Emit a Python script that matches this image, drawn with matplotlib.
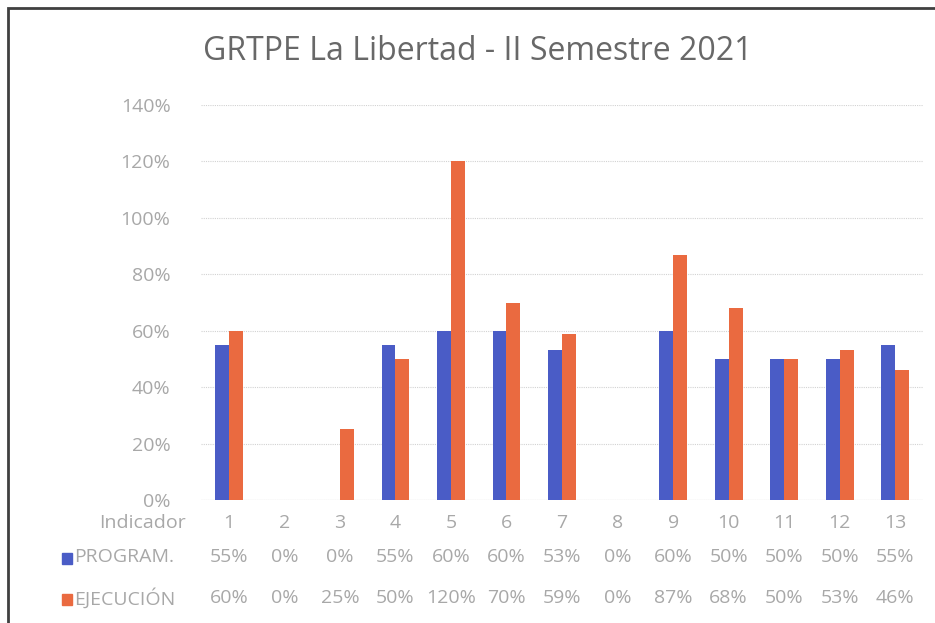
import matplotlib.pyplot as plt
from matplotlib.patches import Rectangle
import matplotlib.transforms as mtransforms

# -----------------------------
# DATA
# -----------------------------
indicadores = ["1", "2", "3", "4", "5", "6", "7", "8", "9", "10", "11", "12", "13"]
program = [55, 0, 0, 55, 60, 60, 53, 0, 60, 50, 50, 50, 55]
ejecucion = [60, 0, 25, 50, 120, 70, 59, 0, 87, 68, 50, 53, 46]

BLUE = '#4a5cc6'
ORANGE = '#ea6a40'
TXT = '#a8a8a8'
FS = 14

plt.rcParams['font.family'] = ['Open Sans', 'DejaVu Sans']

fig = plt.figure(figsize=(9.35, 6.23), dpi=100)
ax = fig.add_axes([201 / 935, 1 - 500 / 623, 722 / 935, 395 / 623])

x = list(range(len(indicadores)))
w = 0.25
ax.bar([i - w / 2 for i in x], program, width=w, color=BLUE, zorder=3)
ax.bar([i + w / 2 for i in x], ejecucion, width=w, color=ORANGE, zorder=3)

ax.set_xlim(-0.5, len(indicadores) - 0.5)
ax.set_ylim(0, 140)
ax.set_yticks(range(0, 141, 20))
ax.set_yticklabels([f"{v}%" for v in range(0, 141, 20)], color=TXT, fontsize=FS)
ax.tick_params(axis='y', length=0, pad=22)
ax.set_xticks([])
ax.grid(axis='y', color='#d2d2d2', linestyle=(0, (1, 1)), linewidth=0.8, zorder=0)
for s in ax.spines.values():
    s.set_visible(False)
ax.axhline(0, color='#d5d5d5', linewidth=0.8, zorder=2)

# data table under the chart
trans = mtransforms.blended_transform_factory(ax.transData, fig.transFigure)
rows_y = [1 - 523 / 623, 1 - 557 / 623, 1 - 598 / 623]
for i, lab in enumerate(indicadores):
    ax.text(i, rows_y[0], lab, transform=trans, ha='center', va='center',
            color=TXT, fontsize=FS)
    ax.text(i, rows_y[1], f"{program[i]}%", transform=trans, ha='center', va='center',
            color=TXT, fontsize=FS)
    ax.text(i, rows_y[2], f"{ejecucion[i]}%", transform=trans, ha='center', va='center',
            color=TXT, fontsize=FS)

fig.text(186 / 935, rows_y[0], "Indicador", ha='right', va='center', color=TXT, fontsize=FS)
fig.text(74 / 935, rows_y[1], "PROGRAM.", ha='left', va='center', color=TXT, fontsize=FS)
fig.text(74 / 935, rows_y[2], "EJECUCIÓN", ha='left', va='center', color=TXT, fontsize=FS)
fig.patches.append(Rectangle((62 / 935, rows_y[1] - 0.012), 0.011, 0.018,
                             transform=fig.transFigure, color=BLUE))
fig.patches.append(Rectangle((62 / 935, rows_y[2] - 0.012), 0.011, 0.018,
                             transform=fig.transFigure, color=ORANGE))

fig.text(478 / 935, 1 - 52 / 623, "GRTPE La Libertad - II Semestre 2021",
         ha='center', va='center', color='#686868', fontsize=23)

# scan frame
fig.patches.append(Rectangle((8 / 935, -0.05), 1.0, 1 - 8 / 623 + 0.05,
                             transform=fig.transFigure, fill=False,
                             edgecolor='#404040', linewidth=2))

fig.savefig("out.png", dpi=100)
